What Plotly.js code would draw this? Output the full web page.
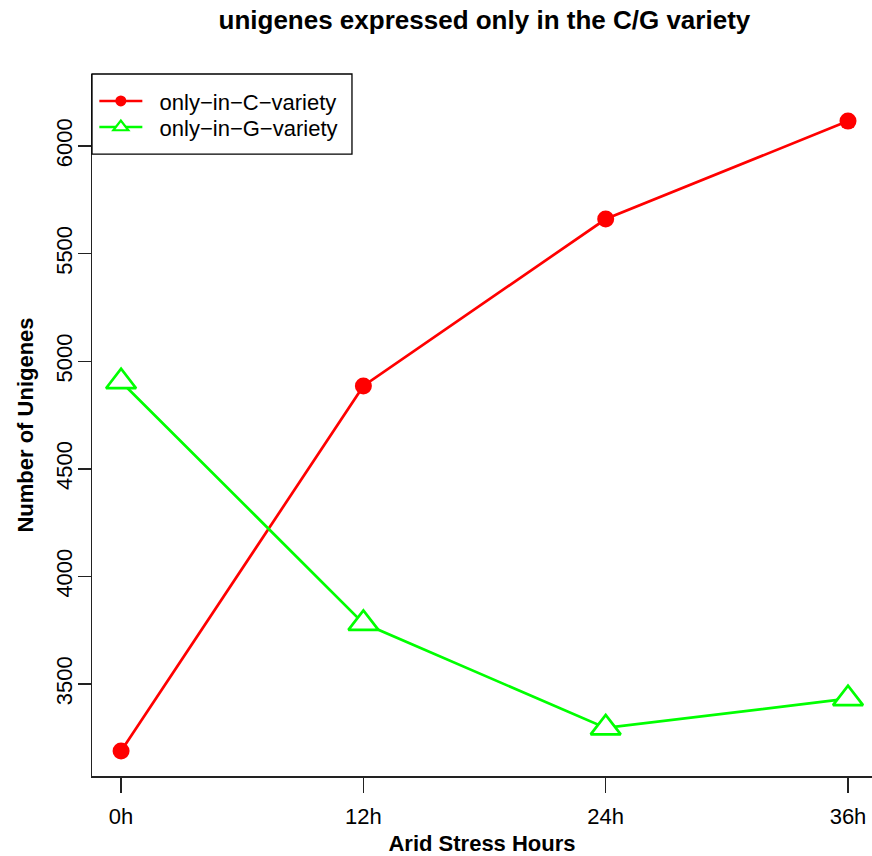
<!DOCTYPE html>
<html>
<head>
<meta charset="utf-8">
<script src="https://cdn.plot.ly/plotly-3.0.1.min.js"></script>
<style>
html,body{margin:0;padding:0;background:#fff;}
#chart{width:872px;height:856px;}
</style>
</head>
<body>
<div id="chart"></div>
<script>
const hours = ["0h", "12h", "24h", "36h"];
const hourIndex = [0, 1, 2, 3];
const onlyInC = [3189, 4885, 5661, 6116];
const onlyInG = [4905, 3782, 3296, 3432];
const yTicks = [3500, 4000, 4500, 5000, 5500, 6000];
const seriesNames = ["only\u2212in\u2212C\u2212variety", "only\u2212in\u2212G\u2212variety"];

const FONT = "Liberation Sans, Arial, Helvetica, sans-serif";
const PAD = "\u00a0\u00a0";
const RED = "#ff0000", GREEN = "#00ff00";

const traces = [
  {
    x: hourIndex, y: onlyInC, name: seriesNames[0], showlegend: false,
    type: "scatter", mode: "lines+markers",
    line: {color: RED, width: 2.7},
    marker: {color: RED, size: 17, symbol: "circle"}
  },
  {
    x: hourIndex, y: onlyInG, name: seriesNames[1], showlegend: false,
    type: "scatter", mode: "lines+markers",
    line: {color: GREEN, width: 2.7},
    marker: {color: "#ffffff", size: 26, symbol: "triangle-up",
             line: {color: GREEN, width: 2.7}}
  },
  /* legend keys (R draws legend symbols at normal size) */
  {
    x: [null], y: [null], name: PAD + seriesNames[0], legend: "legend",
    type: "scatter", mode: "lines+markers",
    line: {color: RED, width: 2.7},
    marker: {color: RED, size: 11, symbol: "circle"}
  },
  {
    x: [null], y: [null], name: PAD + seriesNames[1], legend: "legend2",
    type: "scatter", mode: "lines+markers",
    line: {color: GREEN, width: 2.7},
    marker: {color: "#ffffff", size: 13, symbol: "triangle-up",
             line: {color: GREEN, width: 2.2}}
  }
];

const legendBase = {
  x: 0.003, xanchor: "left", yanchor: "top",
  borderwidth: 0, bgcolor: "rgba(0,0,0,0)",
  font: {family: FONT, size: 22, color: "#000"},
  tracegroupgap: 0, itemwidth: 43
};

const layout = {
  width: 872, height: 856,
  margin: {l: 92, r: 0, t: 74, b: 80},
  paper_bgcolor: "#fff", plot_bgcolor: "#fff",
  font: {family: FONT, color: "#000", size: 22},
  title: {
    text: "<b>unigenes expressed only in the C/G variety</b>",
    font: {family: FONT, size: 26, color: "#000"},
    x: 0.5555, xanchor: "center", y: 0.977, yanchor: "middle"
  },
  showlegend: true,
  legend: Object.assign({}, legendBase, {y: 0.9912}),
  legend2: Object.assign({}, legendBase, {y: 0.9541}),
  shapes: [{
    type: "rect", xref: "paper", yref: "paper",
    x0: 0, x1: 0.3333, y0: 0.886, y1: 1,
    line: {color: "#000", width: 1.3}, fillcolor: "#fff", layer: "above"
  }],
  xaxis: {
    range: [-0.12, 3.099],
    tickmode: "array", tickvals: hourIndex, ticktext: hours,
    showgrid: false, zeroline: false,
    showline: true, linecolor: "#222", linewidth: 1.5,
    ticks: "outside", ticklen: 15, tickwidth: 1.5, tickcolor: "#222",
    tickfont: {family: FONT, size: 22, color: "#000"},
    ticklabelstandoff: 5,
    title: {text: "<b>Arid Stress Hours</b>", font: {family: FONT, size: 22, color: "#000"}, standoff: 9}
  },
  yaxis: {
    range: [3072.5, 6335],
    tickmode: "array", tickvals: yTicks, ticktext: yTicks.map(String),
    tickangle: -90,
    showgrid: false, zeroline: false,
    showline: true, linecolor: "#222", linewidth: 1.5,
    ticks: "outside", ticklen: 13, tickwidth: 1.5, tickcolor: "#222",
    tickfont: {family: FONT, size: 22, color: "#000"},
    ticklabelstandoff: -3,
    title: {text: "<b>Number of Unigenes</b>", font: {family: FONT, size: 22, color: "#000"}, standoff: 12}
  }
};

Plotly.newPlot("chart", traces, layout, {displayModeBar: false, staticPlot: true});
</script>
</body>
</html>
